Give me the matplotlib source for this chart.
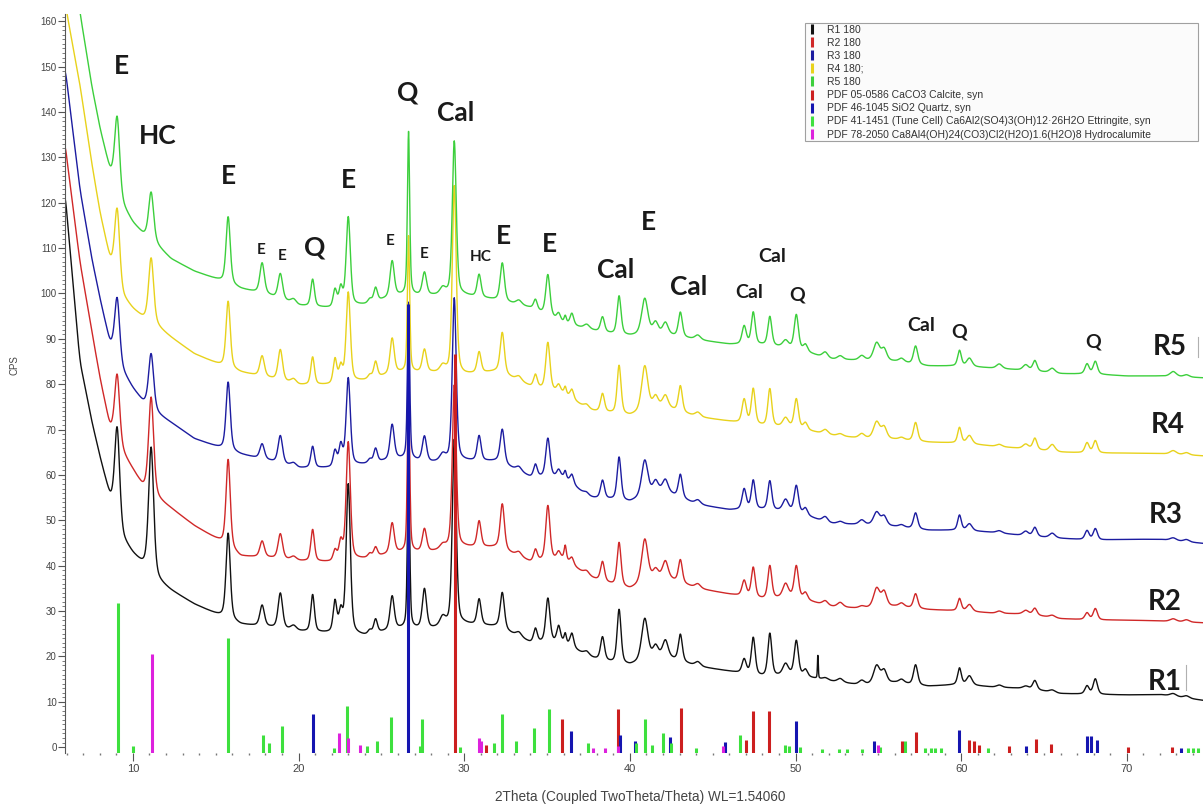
import numpy as np
import matplotlib.pyplot as plt
from matplotlib.lines import Line2D

# scans (bottom to top)
scan_names = ['R1 180', 'R2 180', 'R3 180', 'R4 180;', 'R5 180']
scan_tags = ['R1', 'R2', 'R3', 'R4', 'R5']
scan_colors = ['#111111', '#d02828', '#1c1ca0', '#e8d21c', '#3ccf3c']

# background (CPS at these 2theta values)
bg_x = [5.6, 6.0, 6.8, 7.5, 8.0, 8.6, 9.4, 10.0, 10.6, 11.5, 12.3, 13.7, 15.2, 16.5,
        18.0, 20.0, 22.0, 24.0, 26.0, 28.0, 30.0, 32.0, 34.0, 36.0, 37.5, 39.0, 40.0,
        42.0, 44.0, 46.0, 48.0, 50.0, 52.0, 54.0, 56.0, 58.0, 60.0, 62.0, 64.0, 66.0,
        68.0, 70.0, 72.0, 74.6]
bg_r1 = [135, 118, 85, 72, 64, 55, 45.5, 42.5, 40, 36.5, 34.5, 31.5, 29, 27,
         26.5, 25.5, 25, 24.5, 26, 26, 27, 26.5, 23, 23, 19.8, 18.5, 18,
         20, 17.8, 16.7, 15.5, 15.8, 14.6, 13.6, 14.2, 13.4, 13.8, 13.2, 12.9, 11.8,
         11.6, 11.5, 11.6, 10.3]
bg_r2 = [143, 130, 107, 92, 81.5, 70.5, 64.5, 61, 57.2, 54.5, 52.6, 48.8, 45.5, 42,
         41.8, 41, 40.7, 41.5, 42.8, 43, 44, 44, 40.8, 41.5, 37.5, 35.7, 34.8,
         37.5, 35, 33.7, 32.6, 33, 31, 30.5, 31, 30.3, 30, 29.5, 29.3, 28.3,
         28, 28, 27.8, 27.4]
bg_r3 = [158, 147, 123, 108, 99, 89, 82.5, 79, 76, 73.3, 71.5, 68, 66, 64.5,
         63.3, 61.5, 61.5, 62.3, 63.5, 62.7, 63, 63, 59.5, 59.5, 55, 54.5, 54,
         56.5, 53.5, 52.3, 52.3, 51.8, 49.3, 49, 48.6, 47.8, 47.8, 47.3, 46.5, 46,
         45.6, 45.8, 45.8, 44.9]
bg_r4 = [172, 162, 146, 129, 118, 107.5, 99, 96.5, 94.5, 92.5, 90.3, 86.7, 84.3, 82.6,
         81.5, 79.8, 79.8, 80.8, 82.5, 82.5, 82, 82.8, 79.5, 78, 74.2, 73.5, 73,
         75, 72.8, 71.8, 70.8, 70.3, 68.8, 68, 67.8, 67.2, 67, 66.3, 65.7, 65,
         64.8, 64.8, 64.7, 64.2]
bg_r5 = [200, 185, 162, 146, 136.5, 127, 119, 115.5, 113, 110.3, 107.6, 104.9, 102.9, 101,
         99.8, 97.3, 96.7, 97.5, 99.5, 99.5, 99.5, 98.5, 96.8, 93.5, 92, 91, 90.6,
         91, 89.8, 88.8, 88.6, 87.8, 85.5, 85.2, 85, 84, 84, 83.5, 83, 82.3,
         82.2, 81.8, 81.8, 81.4]

# reflections seen in the scans: position, width (deg) and height above background
peak_pos = [9.05, 11.1, 15.75, 17.8, 18.9, 19.7, 20.85, 22.2, 22.55, 23.0, 24.3, 24.65,
            25.65, 26.64, 27.6, 28.7, 29.4, 30.9, 32.3, 33.3, 34.3, 35.05, 35.7, 36.1,
            36.5, 37.4, 38.35, 39.35, 40.9, 41.55, 42.15, 43.05, 44.1, 46.9, 47.45, 48.45,
            49.4, 50.05, 50.6, 51.35, 51.8, 52.7, 54.0, 54.9, 55.35, 56.4, 57.25, 59.9,
            60.5, 62.3, 63.9, 64.45, 65.5, 67.6, 68.1, 72.8, 73.6]
peak_fwhm = [0.36, 0.36, 0.30, 0.32, 0.32, 0.40, 0.26, 0.26, 0.26, 0.30, 0.26, 0.26,
             0.30, 0.16, 0.30, 0.40, 0.28, 0.28, 0.30, 0.40, 0.26, 0.30, 0.26, 0.16,
             0.26, 0.40, 0.28, 0.28, 0.45, 0.38, 0.38, 0.28, 0.40, 0.30, 0.28, 0.28,
             0.40, 0.30, 0.30, 0.06, 0.40, 0.40, 0.40, 0.45, 0.38, 0.38, 0.30, 0.26,
             0.38, 0.40, 0.40, 0.30, 0.40, 0.30, 0.30, 0.45, 0.40]
h_r1 = [20.8, 28, 19, 4.6, 7.8, 1, 8.2, 6.8, 4.5, 33, 0.8, 3,
        7.4, 36, 8.7, 2, 41, 5.7, 8, 1, 3, 9.7, 3.5, 2,
        3, 1, 5.1, 11.9, 9.3, 2.5, 3.5, 5.9, 1, 3.1, 8.2, 9.4,
        2.5, 7.6, 1.5, 5.5, 0.5, 0.8, 1, 4, 2.7, 0.8, 4.4, 3.6,
        2, 0.5, 0.5, 2, 0.5, 1.8, 3.4, 0.6, 0.5]
h_r2 = [15, 21.4, 19.4, 3.5, 5.5, 0.8, 7, 2.3, 4, 26, 0.8, 2,
        6.7, 37, 5, 1, 36, 5.7, 10, 1, 2.5, 12, 1.5, 3,
        1.5, 1, 4.3, 9.6, 9.7, 2, 3.5, 5, 1, 3.4, 6.6, 7.2,
        3, 6.9, 1.5, 0, 1, 1, 0.5, 4.2, 3.2, 0.8, 3.2, 2.7,
        1.5, 0.5, 0.8, 1.5, 0.5, 1.5, 2.5, 0.6, 0.5]
h_r3 = [13.7, 12.2, 15.1, 3.3, 6.1, 0.8, 4.7, 3.5, 4.5, 19.3, 0.8, 3,
        7.7, 34.6, 5.5, 1.5, 36, 5.5, 7.5, 1, 2.7, 8.5, 1.5, 1.5,
        2, 0.8, 4, 9.5, 8, 2.5, 2.5, 5.1, 1, 4.5, 6.4, 6.4,
        2.5, 5.8, 1.5, 0, 1.2, 0.5, 1, 2.9, 2, 0.5, 3.5, 3.3,
        1.5, 0.5, 1, 2, 1, 2, 2.5, 0.6, 0.5]
h_r4 = [16, 14.4, 14.7, 4.5, 6.8, 1, 6.1, 5.4, 3.5, 19.8, 0.8, 3.5,
        7.8, 30, 5, 1.5, 41.5, 4.6, 9, 1, 2.7, 10.4, 1.5, 1.5,
        2, 1, 4, 10.7, 10, 2.5, 2.5, 5.7, 1, 5.2, 7.8, 8.2,
        2, 6.4, 1.5, 0, 1, 0.5, 1, 3.7, 2.5, 0.5, 4.1, 3.4,
        1.8, 0.5, 1, 2.5, 1.5, 2.2, 2.7, 0.8, 0.5]
h_r5 = [16.5, 10.8, 14.8, 6.7, 5.6, 1, 6, 3.8, 4, 19.6, 0.8, 3,
        7.9, 36, 5, 1.5, 34, 5, 8.4, 1, 2.2, 9, 1.5, 1.5,
        2.5, 1, 3.3, 8.5, 8, 2.5, 2.5, 5.4, 1, 4, 7.1, 6.4,
        1.5, 7.5, 1.5, 0, 1.3, 0.8, 1, 3.9, 2.5, 0.8, 4, 3.4,
        1.8, 1, 1.2, 2.3, 1, 2.2, 2.8, 1.1, 0.5]

# reference patterns (stick height in CPS)
cal_pos = [29.45, 31.3, 35.9, 39.3, 43.07, 47.0, 47.43, 48.43, 56.4, 57.3, 60.5, 60.8,
           61.1, 62.9, 64.5, 65.45, 70.1, 72.7]
cal_h = [88, 1.7, 7.6, 9.8, 9.9, 2.9, 9.3, 9.3, 2.6, 4.6, 2.9, 2.6,
         1.8, 1.5, 3.1, 2.0, 1.3, 1.3]
qtz_pos = [20.85, 26.62, 36.45, 39.4, 40.3, 42.4, 45.72, 50.0, 54.76, 59.86, 63.9,
           67.6, 67.85, 68.2, 73.3]
qtz_h = [8.6, 99, 4.8, 4.0, 2.7, 3.5, 2.4, 7.0, 2.6, 5.0, 1.6,
         3.7, 3.7, 2.9, 1.1]
ett_pos = [9.08, 9.98, 15.76, 17.83, 18.2, 18.98, 22.15, 22.95, 24.12, 24.72, 25.6,
           27.32, 27.45, 29.72, 31.79, 32.29, 33.1, 34.2, 35.1, 37.5, 40.36, 40.9,
           41.36, 42.0, 42.5, 43.97, 46.64, 49.39, 49.59, 50.3, 51.6, 52.6, 53.1,
           54.0, 55.1, 56.6, 57.8, 58.2, 58.4, 58.8, 61.6, 73.7, 74.0, 74.3]
ett_h = [33.1, 1.5, 25.4, 4.0, 2.2, 5.9, 1.1, 10.4, 1.5, 2.6, 7.9,
         1.6, 7.4, 1.3, 2.2, 8.5, 2.7, 5.5, 9.6, 2.2, 2.2, 7.4,
         1.8, 4.4, 2.1, 1.1, 4.0, 1.8, 1.5, 1.3, 0.8, 0.8, 0.8,
         0.8, 1.3, 2.6, 1.1, 1.1, 1.1, 1.1, 1.0, 1.0, 1.0, 1.0]
hc_pos = [11.14, 22.42, 23.0, 23.68, 30.88, 31.02, 37.8, 38.5, 39.3, 45.64, 54.97]
hc_h = [21.8, 4.4, 3.2, 1.7, 3.3, 2.6, 1.1, 1.1, 1.5, 1.5, 1.8]

ref_names = ['PDF 05-0586 CaCO3 Calcite, syn',
             'PDF 46-1045 SiO2 Quartz, syn',
             'PDF 41-1451 (Tune Cell) Ca6Al2(SO4)3(OH)12\u00b726H2O Ettringite, syn',
             'PDF 78-2050 Ca8Al4(OH)24(CO3)Cl2(H2O)1.6(H2O)8 Hydrocalumite']
ref_colors = ['#cc1f1f', '#1515b0', '#3ee03e', '#dd22dd']

# phase labels written over the scans: text, 2theta, CPS, size
labels = [('E', 9.28, 150.1, 19), ('HC', 11.51, 134.7, 19), ('E', 15.78, 125.8, 19),
          ('E', 17.77, 109.6, 11), ('E', 18.98, 108.2, 11), ('Q', 20.96, 110.2, 19),
          ('E', 23.01, 125.0, 19), ('Q', 26.57, 144.4, 19), ('E', 25.55, 111.5, 11),
          ('E', 27.59, 108.8, 11), ('Cal', 29.46, 139.7, 19), ('HC', 31.02, 108.0, 11),
          ('E', 32.35, 112.6, 19), ('E', 35.12, 111.0, 19), ('Cal', 39.16, 105.2, 19),
          ('E', 41.14, 115.7, 19), ('Cal', 43.55, 101.5, 19), ('Cal', 47.23, 100.2, 14),
          ('Cal', 48.61, 108.2, 14), ('Q', 50.07, 99.6, 14), ('Cal', 57.59, 93.0, 14),
          ('Q', 59.88, 91.6, 14), ('Q', 67.96, 89.2, 14)]
tag_pos = [(72.3, 14.3), (72.3, 32.0), (72.35, 51.2), (72.47, 71.1), (72.6, 88.3)]

YMIN, YMAX = -1.3, 161.6
XMIN, XMAX = 5.9, 74.6

x = np.arange(XMIN, XMAX + 0.01, 0.02)


def pvoigt(x, x0, fwhm, h, eta=0.45):
    g = np.exp(-4 * np.log(2) * ((x - x0) / fwhm) ** 2)
    l = 1 / (1 + ((x - x0) / (fwhm / 2)) ** 2)
    return h * (eta * l + (1 - eta) * g)


def scan(bg, heights):
    y = np.interp(x, bg_x, bg)
    k = np.ones(11) / 11
    y = np.convolve(np.pad(y, 5, mode='edge'), k, mode='valid')
    for p, w, h in zip(peak_pos, peak_fwhm, heights):
        y = y + pvoigt(x, p, w, h)
    return y


fig = plt.figure(figsize=(12.03, 8.05), dpi=100)
ax = fig.add_axes([65 / 1203, 1 - 753 / 805, 1 - 65 / 1203, (753 - 14) / 805])

for bg, hh, c in zip([bg_r1, bg_r2, bg_r3, bg_r4, bg_r5], [h_r1, h_r2, h_r3, h_r4, h_r5], scan_colors):
    ax.plot(x, scan(bg, hh), color=c, lw=1.0, zorder=2)

for pos, hh, c in zip([cal_pos, qtz_pos, ett_pos, hc_pos], [cal_h, qtz_h, ett_h, hc_h], ref_colors):
    ax.vlines(pos, YMIN, YMIN + np.array(hh), color=c, lw=2.2, zorder=3)

for t, xx, yy, s in labels:
    ax.text(xx, yy, t, fontsize=s, fontweight='bold', family='Lato', color='#1a1a1a',
            ha='center', va='center', zorder=5)
for t, (xx, yy) in zip(scan_tags, tag_pos):
    ax.text(xx, yy, t, fontsize=20, fontweight='bold', family='Lato', color='#1a1a1a',
            ha='center', va='center', zorder=5)
# thin grey cursor marks left beside two of the tags
ax.plot([74.28, 74.28], [86.1, 90.5], color='#b0b0b0', lw=0.8)
ax.plot([73.55, 73.55], [12.6, 18.1], color='#b0b0b0', lw=0.8)

ax.set_xlim(XMIN, XMAX)
ax.set_ylim(YMIN, YMAX)
ax.set_xticks(range(10, 71, 10))
ax.set_xticks(range(6, 75), minor=True)
ax.set_yticks(range(0, 161, 10))
ax.set_yticks(range(0, 162), minor=True)
for s in ['top', 'right', 'bottom']:
    ax.spines[s].set_visible(False)
ax.spines['left'].set_color('#555555')
ax.tick_params(axis='y', which='major', length=5, width=0.8, color='#555555',
               labelsize=7, labelcolor='#444444', pad=1)
ax.tick_params(axis='y', which='minor', length=2.5, width=0.6, color='#666666')
ax.tick_params(axis='x', which='major', length=6, width=0.8, color='#555555',
               labelsize=8, labelcolor='#444444', pad=2)
ax.tick_params(axis='x', which='minor', length=1.5, width=1.0, color='#777777')
for lab in ax.get_xticklabels() + ax.get_yticklabels():
    lab.set_family('Liberation Sans')

fig.text(14 / 1203, 1 - 365 / 805, 'CPS', rotation=90, fontsize=7, color='#444444',
         family='Liberation Sans', ha='center', va='center')
fig.text(640 / 1203, 1 - 797 / 805, '2Theta (Coupled TwoTheta/Theta) WL=1.54060',
         fontsize=9.8, color='#444444', family='Liberation Sans', ha='center', va='center')

handles = [Line2D([], [], color=c, marker='|', ls='None', markersize=7, markeredgewidth=2.2)
           for c in scan_colors + ref_colors]
leg = ax.legend(handles, scan_names + ref_names, loc='upper left', mode='expand',
                bbox_to_anchor=(805 / 1203, 1 - 160 / 805, 393 / 1203, 137 / 805),
                bbox_transform=fig.transFigure, frameon=True, fancybox=False,
                edgecolor='#a0a0a0', framealpha=1, handlelength=1.0, handletextpad=1.0,
                labelspacing=0.3, borderpad=0.15, borderaxespad=0,
                prop={'family': 'Liberation Sans', 'size': 7.5})
leg.get_frame().set_linewidth(0.8)
leg.get_frame().set_facecolor('#fbfbfb')
for t in leg.get_texts():
    t.set_color('#333333')

fig.savefig('out.png', dpi=100)
